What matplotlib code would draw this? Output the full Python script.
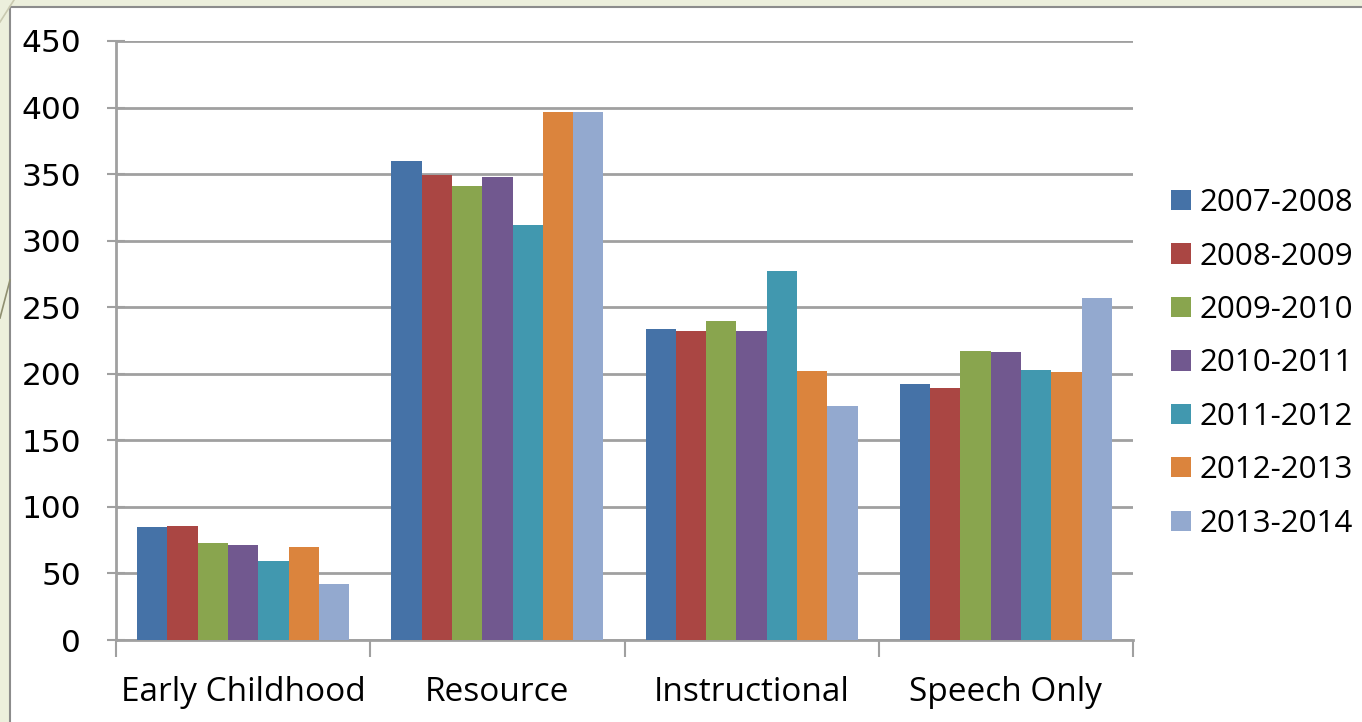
import matplotlib.pyplot as plt
import numpy as np
from matplotlib.patches import Rectangle

categories = ["Early Childhood", "Resource", "Instructional", "Speech Only"]
years = ["2007-2008", "2008-2009", "2009-2010", "2010-2011",
         "2011-2012", "2012-2013", "2013-2014"]
values = [
    [85, 360, 234, 192],
    [86, 349, 232, 189],
    [73, 341, 240, 217],
    [71, 348, 232, 216],
    [59, 312, 277, 203],
    [70, 397, 202, 201],
    [42, 397, 176, 257],
]
colors = ["#4572a7", "#aa4643", "#89a54e", "#71588f",
          "#4198af", "#db843d", "#93a9cf"]

fig = plt.figure(figsize=(13.62, 7.22), dpi=100)
fig.patch.set_facecolor("#ecefdc")

# white slide panel with grey border (right/bottom edges off canvas)
fig.add_artist(Rectangle((10 / 1362, -0.1), 1.2, 1.1 - 7 / 722, transform=fig.transFigure,
                         facecolor="white", edgecolor="#8c8c8c", linewidth=1.5, zorder=0))
# faint decoration lines on the left
fig.add_artist(plt.Line2D([14 / 1362, 0], [1, 1 - 22 / 722], transform=fig.transFigure,
                          color="#c9c9b0", linewidth=1.2))
fig.add_artist(plt.Line2D([10 / 1362, 0], [1 - 280 / 722, 1 - 318 / 722], transform=fig.transFigure,
                          color="#8f8f70", linewidth=1.2))

ax = fig.add_axes([116 / 1362, 1 - 640 / 722, (1133 - 116) / 1362, (640 - 41) / 722])
ax.set_facecolor("none")

x = np.arange(len(categories))
n = len(years)
w = 0.119
for i in range(n):
    ax.bar(x + (i - (n - 1) / 2) * w, values[i], width=w, color=colors[i],
           label=years[i], zorder=3, edgecolor="none")

ax.set_xlim(-0.5, len(categories) - 0.5)
ax.set_ylim(0, 450)
ax.set_yticks(np.arange(0, 451, 50))
ax.yaxis.grid(True, color="#a0a0a0", linewidth=2, zorder=0)
ax.set_axisbelow(True)

for s in ["top", "right"]:
    ax.spines[s].set_visible(False)
ax.spines["left"].set_color("#a0a0a0")
ax.spines["left"].set_linewidth(2)
ax.spines["bottom"].set_color("#a0a0a0")
ax.spines["bottom"].set_linewidth(2)

ax.tick_params(axis="y", length=13, width=1.5, color="#a0a0a0", direction="inout",
               labelsize=22.5, pad=18.5)
for lbl in ax.get_yticklabels():
    lbl.set_fontfamily("DejaVu Sans")

ax.set_xticks(np.arange(-0.5, len(categories), 1.0))
ax.set_xticklabels([])
ax.set_xticks(x, minor=True)
ax.set_xticklabels(categories, minor=True, fontsize=24, fontfamily="Open Sans")
ax.tick_params(axis="x", which="major", length=12, width=1.5, color="#a0a0a0", direction="out")
ax.tick_params(axis="x", which="minor", length=0, pad=26)

leg = fig.legend(loc="upper left", bbox_to_anchor=(1143 / 1362, 1 - 160 / 722),
                 frameon=False, handlelength=0.62, handleheight=0.62,
                 handletextpad=0.28, labelspacing=0.75,
                 prop={"family": "Open Sans", "size": 22.5})

fig.savefig("out.png", dpi=100, facecolor=fig.get_facecolor())
